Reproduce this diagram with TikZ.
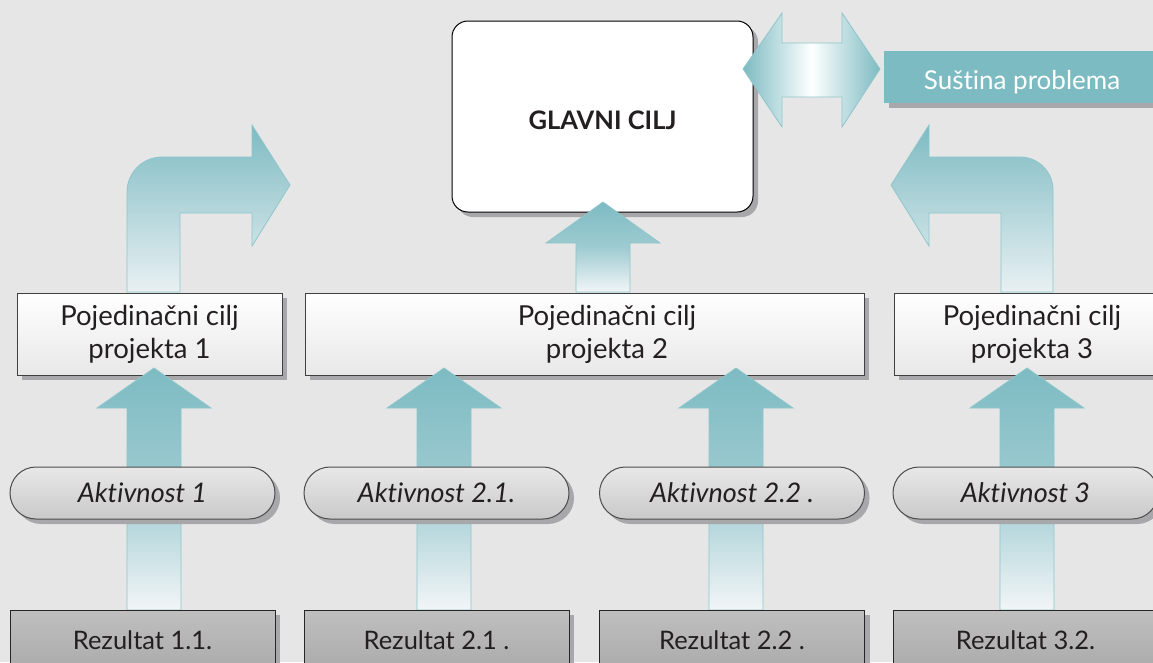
\documentclass[tikz,border=0pt]{standalone}
\usepackage{fontspec}
\setmainfont{Lato}[Ligatures={NoCommon,NoRare}]
\usetikzlibrary{shapes.misc}
\definecolor{bg}{HTML}{E6E6E6}
\definecolor{tealc}{HTML}{7DBBC2}
\definecolor{tealedge}{HTML}{8EC6CC}
\definecolor{shad}{HTML}{A8A8AB}
\definecolor{pale}{HTML}{F2F5F7}
\definecolor{ink}{HTML}{231F20}
\tikzset{
  shadowed/.style={preaction={fill=shad, transform canvas={xshift=5pt,yshift=-5pt}}},
  blockarrow/.style={draw=tealedge, line width=0.8pt, top color=tealc, bottom color=pale, middle color=tealc!72!pale},
  bentarrow/.style={draw=tealedge, line width=0.8pt, top color=tealc, bottom color=pale!92!tealc},
  dblarrow/.style={draw=tealedge, line width=0.8pt, left color=tealc, right color=tealc, middle color=white},
  glavni/.style={shadowed, draw=black, line width=1pt, fill=white, rounded corners=16pt, minimum width=301pt, minimum height=191pt, inner sep=0pt, font=\fontsize{25.5}{30}\selectfont\bfseries, text=ink},
  sustina/.style={shadowed, fill=tealc, minimum width=276pt, minimum height=52pt, inner sep=0pt, text=white, font=\fontsize{26}{30}\selectfont},
  projbox/.style={shadowed, draw=black!75, line width=1pt, top color=white, bottom color=black!9, minimum height=82pt, inner sep=0pt, font=\fontsize{27.5}{33}\selectfont, text=ink, align=center},
  projtext/.style={font=\fontsize{27.5}{33}\selectfont, text=ink, align=center, inner sep=0pt},
  pill/.style={rounded rectangle, shadowed, draw=black!70, line width=1pt, top color=black!9, bottom color=black!21, minimum width=265pt, minimum height=52pt, inner sep=0pt, font=\fontsize{27}{30}\selectfont\itshape, text=ink},
  rezbox/.style={shadowed, draw=black!85, line width=1pt, top color=black!25, bottom color=black!33, minimum width=265pt, minimum height=60pt, inner sep=0pt, font=\fontsize{25.5}{30}\selectfont, text=ink},
}
\newcommand\blockup[4]{%
  \path[blockarrow] (#1,#2) -- (#1+57,#4) -- (#1+27,#4) -- (#1+27,#3) -- (#1-27,#3) -- (#1-27,#4) -- (#1-57,#4) -- cycle;}
\begin{document}
\begin{tikzpicture}[x=1pt,y=-1pt]
\fill[bg] (0,0) rectangle (1153,662);
\useasboundingbox (0,0) rectangle (1153,662);

% bent arrows
\path[bentarrow] (127,292) -- (127,192) arc[start angle=180,end angle=90,radius=35pt] -- (252,157) -- (252,125) -- (290,185) -- (252,246) -- (252,213) -- (180,213) -- (180,292) -- cycle;
\path[bentarrow] (891,185) -- (929,125) -- (929,157) -- (1020,157) arc[start angle=90,end angle=0,radius=33pt] -- (1053,292) -- (1001,292) -- (1001,213) -- (929,213) -- (929,246) -- cycle;

% main goal
\node[glavni] (g) at (602.5,116.5) {\raisebox{-13pt}[0pt][0pt]{GLAVNI CILJ}};

% double arrow
\path[dblarrow] (743,69) -- (782,13) -- (782,43) -- (842,43) -- (842,13) -- (880,69) -- (842,127) -- (842,97) -- (782,97) -- (782,127) -- cycle;

\node[sustina] (s) at (1022,77) {\raisebox{-12pt}[0pt][0pt]{Suština problema}};

% project goals
\node[projbox, minimum width=265pt] (p1) at (149.5,334) {Pojedinačni cilj\\projekta 1};
\node[projbox, minimum width=559pt] (p2) at (584.5,334) {};
\node[projtext] (p2t) at (607,334) {Pojedinačni cilj\\projekta 2};
\node[projbox, minimum width=276pt] (p3) at (1032,334) {Pojedinačni cilj\\projekta 3};

% arrow to main goal
\blockup{603}{202}{292}{243}

% column arrows
\blockup{154}{368}{610}{408}
\blockup{444}{368}{610}{408}
\blockup{736}{368}{610}{408}
\blockup{1027}{368}{610}{408}

% activities
\node[pill] (a1) at (142.5,493) {Aktivnost 1};
\node[pill] (a2) at (436.5,493) {Aktivnost 2.1.};
\node[pill] (a3) at (732,493) {Aktivnost 2.2 .};
\node[pill] (a4) at (1025.5,493) {Aktivnost 3};

% results
\node[rezbox] (r1) at (142.5,640) {Rezultat 1.1.};
\node[rezbox] (r2) at (436.5,640) {Rezultat 2.1 .};
\node[rezbox] (r3) at (732,640) {Rezultat 2.2 .};
\node[rezbox] (r4) at (1025.5,640) {Rezultat 3.2.};
\end{tikzpicture}
\end{document}
